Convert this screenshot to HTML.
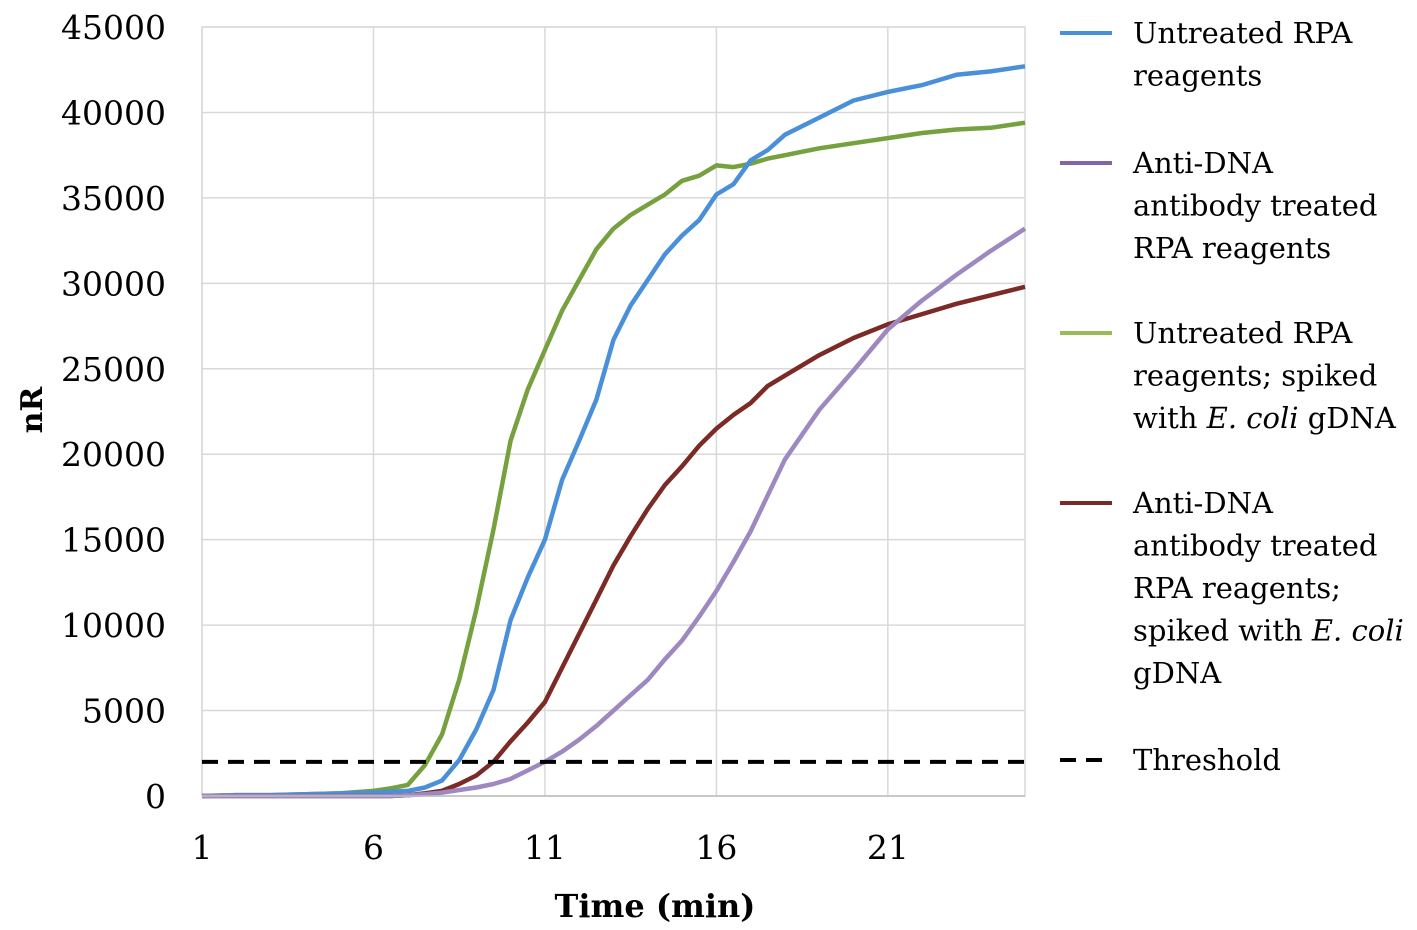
<!DOCTYPE html>
<html><head><meta charset="utf-8"><style>
body{margin:0;background:#fff;}
svg{display:block;font-family:"DejaVu Serif","Liberation Serif",serif;}
</style></head><body>
<svg id="chart" width="1417" height="930" viewBox="0 0 1417 930" xmlns="http://www.w3.org/2000/svg">
<g id="grid"></g>
<g id="series"></g>
<g id="axes"></g>
<text transform="translate(42,410) rotate(-90)" text-anchor="middle" font-size="30" font-weight="bold">nR</text>
<text x="655" y="917" text-anchor="middle" font-size="32" font-weight="bold">Time (min)</text>
<g id="legend" font-size="29"></g>
</svg>
<script>
const xTicks=[1,6,11,16,21];
const yTicks=[0,5000,10000,15000,20000,25000,30000,35000,40000,45000];
const times=[1,2,3,4,5,6,6.5,7,7.5,8,8.5,9,9.5,10,10.5,11,11.5,12,12.5,13,13.5,14,14.5,15,15.5,16,16.5,17,17.5,18,19,20,21,22,23,24,25];
const blue=[0,50,50,100,150,200,250,300,500,900,2100,3900,6200,10300,12800,15000,18500,20800,23200,26700,28700,30200,31700,32800,33700,35200,35800,37200,37800,38700,39700,40700,41200,41600,42200,42400,42700];
const purple=[0,0,0,0,0,0,0,50,100,200,350,500,700,1000,1500,2000,2600,3300,4100,5000,5900,6800,8000,9100,10500,12000,13700,15500,17600,19700,22600,24900,27300,29000,30500,31900,33200];
const green=[0,50,50,100,150,300,450,650,1800,3600,6800,10900,15600,20800,23800,26100,28400,30200,32000,33200,34000,34600,35200,36000,36300,36900,36800,37000,37300,37500,37900,38200,38500,38800,39000,39100,39400];
const red=[0,0,0,0,0,0,0,50,150,300,700,1200,2000,3200,4300,5500,7500,9500,11500,13500,15200,16800,18200,19300,20500,21500,22300,23000,24000,24600,25800,26800,27600,28200,28800,29300,29800];
const threshold=2000;
const L=202,R=1025,T=27,B=796,xMin=1,xMax=25,yMax=45000;
const X=v=>L+(v-xMin)/(xMax-xMin)*(R-L);
const Y=v=>B-v/yMax*(B-T);
const NS="http://www.w3.org/2000/svg";
function mk(tag,attrs,parent){const e=document.createElementNS(NS,tag);for(const k in attrs)e.setAttribute(k,attrs[k]);parent.appendChild(e);return e;}
const grid=document.getElementById('grid'),axes=document.getElementById('axes'),ser=document.getElementById('series'),leg=document.getElementById('legend');
yTicks.forEach(v=>{
 const l=mk('line',{x1:L,x2:R,y1:Y(v),y2:Y(v),stroke:'#d9d9d9','stroke-width':1.5},grid);
 
 
 const t=mk('text',{x:166,y:Y(v)+12,'text-anchor':'end','font-size':33},axes);t.textContent=v;
 
 
});
xTicks.forEach(v=>{
 const l=mk('line',{x1:X(v),x2:X(v),y1:T,y2:B,stroke:'#d9d9d9','stroke-width':1.5},grid);
 
 
 const t=mk('text',{x:X(v),y:859,'text-anchor':'middle','font-size':33},axes);t.textContent=v;
 
 
});
const bx=mk('rect',{x:L,y:T,width:R-L,height:B-T,fill:'none',stroke:'#d9d9d9','stroke-width':1.5},grid);


const ax=mk('line',{x1:L,x2:R,y1:B,y2:B,stroke:'#bfbfbf','stroke-width':1.5},axes);


const seriesList=[[green,'#77a03e','line-untreated-ecoli'],[blue,'#4a90d9','line-untreated'],[red,'#7b2a26','line-antibody-ecoli'],[purple,'#9d88c0','line-antibody']];
seriesList.forEach(([d,c,n])=>{
 const p=mk('path',{d:d.map((v,i)=>(i?'L':'M')+X(times[i]).toFixed(1)+','+Y(v).toFixed(1)).join(''),fill:'none',stroke:c,'stroke-width':4.5,'stroke-linejoin':'round'},ser);
 
 
});
const th=mk('line',{x1:L,x2:R,y1:Y(threshold),y2:Y(threshold),stroke:'#000','stroke-width':4,'stroke-dasharray':'16,10'},ser);


const legendItems=[['#4a90d9',33,['Untreated RPA','reagents'],false],['#8066a8',163,['Anti-DNA','antibody treated','RPA reagents'],false],['#9bbb59',333,['Untreated RPA','reagents; spiked','with <tspan font-style="italic">E. coli</tspan> gDNA'],false],['#7b2a26',503,['Anti-DNA','antibody treated','RPA reagents;','spiked with <tspan font-style="italic">E. coli</tspan>','gDNA'],false],['#000',760,['Threshold'],true]];
legendItems.forEach(([c,y,lines,dash])=>{
 const g=mk('g',{},leg);
 
 
 mk('line',dash?{x1:1060,x2:1112,y1:y,y2:y,stroke:c,'stroke-width':4,'stroke-dasharray':'16,10'}:{x1:1060,x2:1112,y1:y,y2:y,stroke:c,'stroke-width':4},g);
 lines.forEach((s,i)=>{const t=mk('text',{x:1133,y:y+10+i*42.5},g);t.innerHTML=s;});
});
</script>
</body></html>
